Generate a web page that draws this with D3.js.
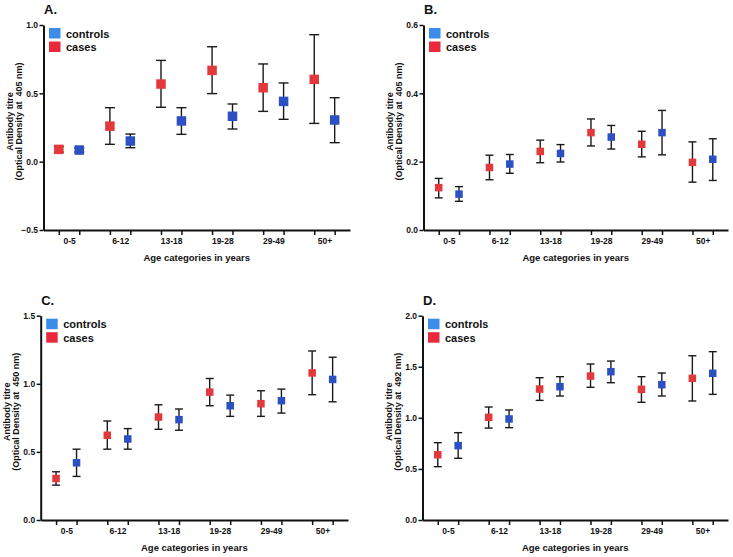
<!DOCTYPE html>
<html>
<head>
<meta charset="utf-8">
<script src="https://cdn.jsdelivr.net/npm/d3@7"></script>
<style>
  html, body { margin: 0; padding: 0; background: #fff; }
  svg text { font-family: "Liberation Sans", Arial, Helvetica, sans-serif; font-weight: bold; fill: #111; }
</style>
</head>
<body>
<svg id="chart" width="733" height="557"></svg>
<script>
// ---------- data ----------
const groups = ["0-5", "6-12", "13-18", "19-28", "29-49", "50+"];
const seriesNames = ["controls", "cases"];
const panelLetters = ["A.", "B.", "C.", "D."];
const wavelengths = ["405", "405", "450", "492"];

const yTicksA = [-0.5, 0.0, 0.5, 1.0];
const yTicksB = [0.0, 0.2, 0.4, 0.6];
const yTicksC = [0.0, 0.5, 1.0, 1.5];
const yTicksD = [0.0, 0.5, 1.0, 1.5, 2.0];

// Panel A
const casesMeanA    = [0.090, 0.260, 0.568, 0.668, 0.541, 0.602];
const casesLowA     = [0.070, 0.127, 0.398, 0.498, 0.368, 0.280];
const casesHighA    = [0.110, 0.395, 0.741, 0.841, 0.715, 0.929];
const controlsMeanA = [0.085, 0.151, 0.298, 0.332, 0.441, 0.305];
const controlsLowA  = [0.070, 0.102, 0.200, 0.239, 0.310, 0.139];
const controlsHighA = [0.100, 0.202, 0.395, 0.422, 0.576, 0.468];

// Panel B
const casesMeanB    = [0.124, 0.183, 0.230, 0.285, 0.251, 0.198];
const casesLowB     = [0.094, 0.147, 0.197, 0.246, 0.214, 0.140];
const casesHighB    = [0.151, 0.219, 0.263, 0.325, 0.289, 0.258];
const controlsMeanB = [0.105, 0.193, 0.224, 0.272, 0.285, 0.207];
const controlsLowB  = [0.084, 0.166, 0.199, 0.237, 0.220, 0.145];
const controlsHighB = [0.127, 0.221, 0.250, 0.306, 0.350, 0.267];

// Panel C
const casesMeanC    = [0.305, 0.622, 0.756, 0.939, 0.854, 1.080];
const casesLowC     = [0.256, 0.520, 0.666, 0.839, 0.761, 0.920];
const casesHighC    = [0.354, 0.727, 0.846, 1.039, 0.949, 1.241];
const controlsMeanC = [0.420, 0.595, 0.737, 0.839, 0.876, 1.032];
const controlsLowC  = [0.320, 0.520, 0.659, 0.761, 0.785, 0.868];
const controlsHighC = [0.520, 0.671, 0.815, 0.917, 0.961, 1.195];

// Panel D
const casesMeanD    = [0.639, 1.005, 1.282, 1.409, 1.279, 1.387];
const casesLowD     = [0.522, 0.900, 1.171, 1.299, 1.152, 1.165];
const casesHighD    = [0.757, 1.106, 1.393, 1.527, 1.403, 1.608];
const controlsMeanD = [0.728, 0.989, 1.305, 1.452, 1.325, 1.436];
const controlsLowD  = [0.604, 0.904, 1.214, 1.344, 1.214, 1.230];
const controlsHighD = [0.855, 1.077, 1.403, 1.556, 1.439, 1.648];

// ---------- layout / styles ----------
const pointColor  = { cases: "#e3393d", controls: "#2c50c2" };
const legendColor = { cases: "#e9283b", controls: "#3b8de9" };

const panels = [
  { letter: panelLetters[0], nm: wavelengths[0], ticks: yTicksA, x0: 43.5, x1: 350, yTop: 25, yBot: 230, marker: 9.5, cap: 10,
    cases: [casesMeanA, casesLowA, casesHighA], controls: [controlsMeanA, controlsLowA, controlsHighA] },
  { letter: panelLetters[1], nm: wavelengths[1], ticks: yTicksB, x0: 423.5, x1: 728, yTop: 25, yBot: 230, marker: 7.5, cap: 8,
    cases: [casesMeanB, casesLowB, casesHighB], controls: [controlsMeanB, controlsLowB, controlsHighB] },
  { letter: panelLetters[2], nm: wavelengths[2], ticks: yTicksC, x0: 40.7, x1: 348, yTop: 315.7, yBot: 520, marker: 7.5, cap: 8,
    cases: [casesMeanC, casesLowC, casesHighC], controls: [controlsMeanC, controlsLowC, controlsHighC] },
  { letter: panelLetters[3], nm: wavelengths[3], ticks: yTicksD, x0: 422.5, x1: 728, yTop: 315.7, yBot: 520, marker: 7.5, cap: 8,
    cases: [casesMeanD, casesLowD, casesHighD], controls: [controlsMeanD, controlsLowD, controlsHighD] }
];

const svg = d3.select("#chart");
svg.append("rect").attr("width", 733).attr("height", 557).attr("fill", "#fff");

// slot index: cases at 5*i, controls at 5*i+2
const slotOf = { cases: 0, controls: 2 };

panels.forEach(p => {
  const g = svg.append("g");
  const x = d3.scaleLinear().domain([-1.5, 28.5]).range([p.x0, p.x1]);
  const y = d3.scaleLinear().domain([p.ticks[0], p.ticks[p.ticks.length - 1]]).range([p.yBot, p.yTop]);

  // y axis
  const yAx = g.append("g").attr("transform", `translate(${p.x0},0)`)
    .call(d3.axisLeft(y).tickValues(p.ticks).tickFormat(d3.format(".1f")).tickSize(4).tickSizeOuter(0).tickPadding(1.5));
  yAx.select(".domain").attr("stroke", "#111").attr("stroke-width", 2);
  yAx.selectAll(".tick line").attr("stroke", "#111").attr("stroke-width", 1.5);
  yAx.selectAll(".tick text").style("font-size", "8.5px").style("font-family", "Liberation Sans, Arial, sans-serif").style("font-weight", "bold").attr("fill", "#111");

  // x axis: ticks at each marker slot
  const slots = [];
  groups.forEach((gname, i) => { slots.push(5 * i + slotOf.cases); slots.push(5 * i + slotOf.controls); });
  const xAx = g.append("g").attr("transform", `translate(0,${p.yBot})`)
    .call(d3.axisBottom(x).tickValues(slots).tickFormat("").tickSize(5).tickSizeOuter(0));
  xAx.select(".domain").attr("stroke", "#111").attr("stroke-width", 2);
  xAx.selectAll(".tick line").attr("stroke", "#111").attr("stroke-width", 1.5);

  // group labels via a label-only axis
  const centers = groups.map((gname, i) => 5 * i + 1);
  const lab = g.append("g").attr("transform", `translate(0,${p.yBot})`)
    .call(d3.axisBottom(x).tickValues(centers).tickFormat((d, i) => groups[i]).tickSize(0).tickPadding(8));
  lab.select(".domain").remove();
  lab.selectAll(".tick text").style("font-size", "8.5px").style("font-family", "Liberation Sans, Arial, sans-serif").style("font-weight", "bold").attr("fill", "#111");

  // x title
  g.append("text").attr("x", (p.x0 + p.x1) / 2).attr("y", p.yBot + 31)
    .attr("text-anchor", "middle").style("font-size", "9.5px").text("Age categories in years");

  // y title (two lines)
  const yc = (p.yTop + p.yBot) / 2 - 6;
  g.append("text").attr("transform", `translate(${p.x0 - 31},${yc}) rotate(-90)`)
    .attr("text-anchor", "middle").style("font-size", "9px").text("Antibody titre");
  g.append("text").attr("transform", `translate(${p.x0 - 22},${yc}) rotate(-90)`)
    .attr("text-anchor", "middle").style("font-size", "9px").style("white-space", "pre")
    .text(`(Optical Density at  ${p.nm} nm)`);

  // panel letter
  g.append("text").attr("x", p.x0 + 0.5).attr("y", p.yTop - 11).style("font-size", "13px").text(p.letter);

  // series data
  ["cases", "controls"].forEach(s => {
    const [mean, lo, hi] = p[s];
    const data = groups.map((gname, i) => ({ slot: 5 * i + slotOf[s], m: mean[i], lo: lo[i], hi: hi[i] }));
    const eb = g.append("g").attr("stroke", "#1a1a1a").attr("stroke-width", 1.4).attr("fill", "none");
    eb.selectAll("line.v").data(data).join("line").attr("class", "v")
      .attr("x1", d => x(d.slot)).attr("x2", d => x(d.slot)).attr("y1", d => y(d.lo)).attr("y2", d => y(d.hi));
    eb.selectAll("line.t").data(data).join("line").attr("class", "t")
      .attr("x1", d => x(d.slot) - p.cap / 2).attr("x2", d => x(d.slot) + p.cap / 2).attr("y1", d => y(d.hi)).attr("y2", d => y(d.hi));
    eb.selectAll("line.b").data(data).join("line").attr("class", "b")
      .attr("x1", d => x(d.slot) - p.cap / 2).attr("x2", d => x(d.slot) + p.cap / 2).attr("y1", d => y(d.lo)).attr("y2", d => y(d.lo));
    g.append("g").selectAll("rect").data(data).join("rect")
      .attr("x", d => x(d.slot) - p.marker / 2).attr("y", d => y(d.m) - p.marker / 2)
      .attr("width", p.marker).attr("height", p.marker).attr("fill", pointColor[s]);
  });

  // legend
  const lg = g.append("g").attr("transform", `translate(${p.x0 + 5.5},${p.yTop + 3})`);
  seriesNames.forEach((s, i) => {
    lg.append("rect").attr("x", 0).attr("y", i * 13.5).attr("width", 11.5).attr("height", 10.5).attr("fill", legendColor[s]);
    lg.append("text").attr("x", 17).attr("y", i * 13.5 + 9.5).style("font-size", "11px").text(s);
  });
});
</script>
</body>
</html>
